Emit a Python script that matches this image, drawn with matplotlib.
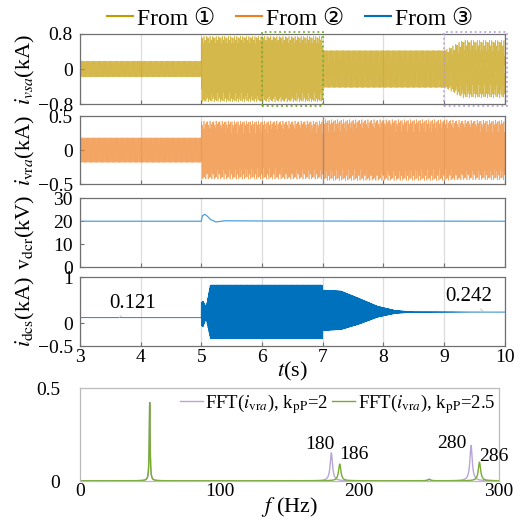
import numpy as np
import matplotlib
matplotlib.use("Agg")
import matplotlib.pyplot as plt
from matplotlib.lines import Line2D
from matplotlib.patches import Rectangle

plt.rcParams['font.family'] = ['Liberation Serif', 'DejaVu Serif']
plt.rcParams['mathtext.fontset'] = 'stix'

# ---------------- data ----------------
# time-domain envelopes (breakpoints in s, amplitudes in kA)
env_t      = [3.0, 5.0, 5.001, 7.0, 7.001, 9.0, 9.3, 10.0]
ivsa_fund  = [0.18, 0.18, 0.25, 0.25, 0.42, 0.42, 0.42, 0.42]
ivsa_osc   = [0.0, 0.0, 0.50, 0.50, 0.0, 0.0, 0.24, 0.24]
ivra_fund  = [0.18, 0.18, 0.25, 0.25, 0.25, 0.25, 0.25, 0.25]
ivra_osc   = [0.0, 0.0, 0.18, 0.18, 0.20, 0.20, 0.19, 0.19]
f_fund = 50.0
f_osc = 180.0

vdcr_t = [3.0, 5.0, 5.02, 5.06, 5.10, 5.15, 5.24, 5.40, 6.0, 10.0]
vdcr_v = [20.0, 20.0, 22.4, 23.0, 22.2, 20.8, 19.7, 20.2, 20.1, 20.0]

idcs_t   = [3.0, 5.0, 5.001, 5.03, 5.08, 5.15, 7.0, 7.001, 7.3, 7.6, 7.9, 8.2, 8.5, 10.0]
idcs_dc  = [0.121, 0.121, 0.20, 0.20, 0.23, 0.25, 0.25, 0.28, 0.28, 0.26, 0.25, 0.245, 0.242, 0.242]
idcs_amp = [0.0, 0.0, 0.25, 0.28, 0.12, 0.58, 0.58, 0.44, 0.42, 0.28, 0.12, 0.03, 0.005, 0.0]
f_dcs = 130.0

# FFT peaks
fft_f_kp2   = [50, 180, 250, 280]
fft_a_kp2   = [0.42, 0.15, 0.008, 0.19]
fft_f_kp25  = [50, 186, 250, 286]
fft_a_kp25  = [0.42, 0.09, 0.008, 0.10]

time_ticks = [3, 4, 5, 6, 7, 8, 9, 10]
freq_ticks = [0, 100, 200, 300]

C_GOLD = '#C49A00'
C_ORANGE = '#EE7F22'
C_BLUE = '#0072BD'
C_LBLUE = '#4DA0DC'
C_PURPLE = '#B8A6D8'
C_GREEN = '#77AC30'

# ---------------- figure ----------------
fig = plt.figure(figsize=(5.32, 5.23), dpi=100)
L, W = 0.150, 0.799
ax1 = fig.add_axes([L, 0.801, W, 0.134])
ax2 = fig.add_axes([L, 0.648, W, 0.130])
ax3 = fig.add_axes([L, 0.489, W, 0.132])
ax4 = fig.add_axes([L, 0.338, W, 0.132])
ax5 = fig.add_axes([L, 0.080, 0.788, 0.178])

t = np.arange(3.0, 10.0, 1 / 2000.0)

def env(vals):
    return np.interp(t, env_t, vals)

ivsa = env(ivsa_fund) * np.sin(2 * np.pi * f_fund * t) + env(ivsa_osc) * np.sin(2 * np.pi * f_osc * t + 0.4)
ivra = env(ivra_fund) * np.sin(2 * np.pi * f_fund * t) + env(ivra_osc) * np.sin(2 * np.pi * f_osc * t + 1.1)
idcs = np.interp(t, idcs_t, idcs_dc) + np.interp(t, idcs_t, idcs_amp) * np.sin(2 * np.pi * f_dcs * t)

spine_c = '#707070'
tick_fs = 14
lab_fs = 16

def style(ax, xlabels=False):
    ax.set_xlim(3, 10)
    ax.set_xticks(time_ticks)
    ax.grid(axis='x', color='#DDDDDD', lw=0.9)
    ax.set_axisbelow(True)
    ax.tick_params(direction='in', length=3, labelsize=tick_fs, color=spine_c)
    ax.tick_params(axis='y', pad=5)
    ax.tick_params(axis='x', pad=2)
    for s in ax.spines.values():
        s.set_color(spine_c)
        s.set_linewidth(0.9)
    if not xlabels:
        ax.set_xticklabels([])

# panel 1
ax1.plot(t, ivsa, color=C_GOLD, lw=0.5, alpha=0.7)
ax1.set_ylim(-0.8, 0.8)
ax1.set_yticks([-0.8, 0, 0.8])
ax1.set_yticklabels(['\u22120.8', '0', '0.8'])
style(ax1)
ax1.set_ylabel(r'$i_{vsa}$(kA)', fontsize=lab_fs)
ax1.add_patch(Rectangle((6.0, -0.84), 1.0, 1.68, fill=False, ls=':', lw=1.3,
                        ec=C_GREEN, clip_on=False, zorder=5))
ax1.add_patch(Rectangle((9.0, -0.84), 1.04, 1.68, fill=False, ls=':', lw=1.3,
                        ec=C_PURPLE, clip_on=False, zorder=5))

# panel 2
ax2.plot(t, ivra, color=C_ORANGE, lw=0.5, alpha=0.7)
ax2.axvline(7.0, color='#909090', lw=0.9, zorder=4)
ax2.set_ylim(-0.5, 0.5)
ax2.set_yticks([-0.5, 0, 0.5])
ax2.set_yticklabels(['\u22120.5', '0', '0.5'])
style(ax2)
ax2.set_ylabel(r'$i_{\mathrm{vr}a}$(kA)', fontsize=lab_fs)

# panel 3
ax3.plot(vdcr_t, vdcr_v, color=C_LBLUE, lw=0.9)
ax3.set_ylim(0, 30)
ax3.set_yticks([0, 10, 20, 30])
style(ax3)
ax3.set_ylabel(r'$\mathrm{v}_{\mathrm{dcr}}$(kV)', fontsize=lab_fs)

# panel 4
ax4.plot(t, idcs, color=C_BLUE, lw=0.6)
ax4.set_ylim(-0.5, 1.0)
ax4.set_yticks([-0.5, 0, 1])
ax4.set_yticklabels(['\u22120.5', '0', '1'])
style(ax4, xlabels=True)
ax4.set_ylabel(r'$i_{\mathrm{dcs}}$(kA)', fontsize=lab_fs)
ax4.set_xlabel(r'$t$(s)', fontsize=lab_fs, labelpad=-4)
ax4.annotate('0.121', xy=(3.65, 0.121), xytext=(3.87, 0.43), fontsize=15,
             ha='center', va='center',
             arrowprops=dict(arrowstyle='-', color='#BBBBBB', lw=0.6, shrinkA=7, shrinkB=0))
ax4.annotate('0.242', xy=(9.65, 0.242), xytext=(9.4, 0.58), fontsize=15,
             ha='center', va='center',
             arrowprops=dict(arrowstyle='-', color='#BBBBBB', lw=0.6, shrinkA=7, shrinkB=0))

for ax in (ax1, ax2, ax3, ax4):
    ax.yaxis.set_label_coords(-0.10, 0.5)

# panel 5 (FFT)
f = np.linspace(0, 300, 6001)

def spectrum(freqs, amps):
    s = np.zeros_like(f)
    for f0, a in zip(freqs, amps):
        w = 0.35 if f0 < 100 else 1.0
        s += a / (1 + ((f - f0) / w) ** 2)
    return s + 0.002

ax5.plot(f, spectrum(fft_f_kp2, fft_a_kp2), color=C_PURPLE, lw=1.0,
         label=r'FFT($i_{\mathrm{vr}a}$), k$_{\mathrm{pP}}$=2')
ax5.plot(f, spectrum(fft_f_kp25, fft_a_kp25), color=C_GREEN, lw=1.0,
         label=r'FFT($i_{\mathrm{vr}a}$), k$_{\mathrm{pP}}$=2.5')
ax5.set_xlim(0, 300)
ax5.set_ylim(0, 0.5)
ax5.set_xticks(freq_ticks)
ax5.set_yticks([0, 0.5])
ax5.set_yticklabels(['0', '0.5'])
ax5.tick_params(axis='x', direction='in', length=0, labelsize=tick_fs, pad=1)
ax5.tick_params(axis='y', direction='in', length=0, labelsize=tick_fs, pad=14)
for s in ax5.spines.values():
    s.set_color('#BBBBBB')
    s.set_linewidth(0.9)
ax5.set_xlabel(r'$f$ (Hz)', fontsize=lab_fs, labelpad=-3)
ax5.legend(loc='upper right', ncol=2, frameon=False, fontsize=13.5,
           handlelength=1.2, handletextpad=0.15, columnspacing=0.2,
           borderaxespad=0.05, borderpad=0.15)
for txt, x, y in [('180', 172, 0.195), ('186', 196, 0.145), ('280', 266, 0.2), ('286', 296, 0.13)]:
    ax5.text(x, y, txt, fontsize=14, ha='center', va='center')

# top legend
handles = [Line2D([], [], color=C_GOLD, lw=1.5),
           Line2D([], [], color=C_ORANGE, lw=1.5),
           Line2D([], [], color=C_BLUE, lw=1.5)]
labels = ['From \u2460', 'From \u2461', 'From \u2462']
fig.legend(handles, labels, loc='upper center', bbox_to_anchor=(0.545, 1.025), ncol=3,
           frameon=False, handlelength=1.1, handletextpad=0.15, columnspacing=0.9,
           prop={'family': ['Liberation Serif', 'DejaVu Sans'], 'size': 17})

fig.savefig('out.png', dpi=100)
